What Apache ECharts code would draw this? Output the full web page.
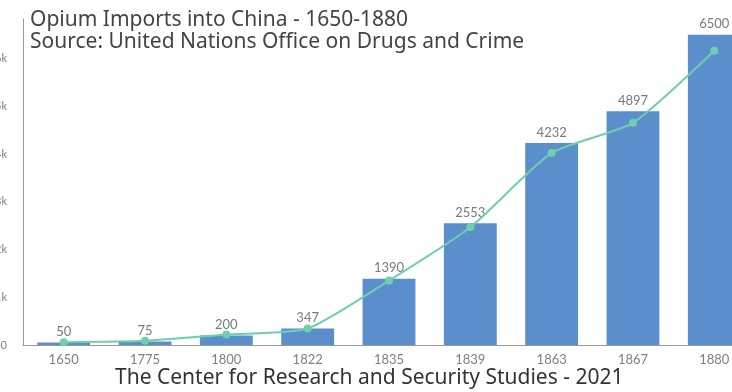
<!DOCTYPE html>
<html>
<head>
<meta charset="utf-8">
<script src="https://cdn.jsdelivr.net/npm/echarts@6/dist/echarts.min.js"></script>
<style>
html,body{margin:0;padding:0;background:#fff;overflow:hidden;width:732px;height:392px;}
#c{position:absolute;left:-10px;top:0;width:772px;height:392px;}
</style>
</head>
<body>
<div id="c"></div>
<script>
const years = ['1650','1775','1800','1822','1835','1839','1863','1867','1880'];
const imports = [50, 75, 200, 347, 1390, 2553, 4232, 4897, 6500];
const trend = [60, 90, 220, 345, 1350, 2467, 4025, 4654, 6164];
const titleLines = ['Opium Imports into China - 1650-1880', 'Source: United Nations Office on Drugs and Crime'];
const footer = 'The Center for Research and Security Studies - 2021';

const chart = echarts.init(document.getElementById('c'));
chart.setOption({
  backgroundColor: '#fff',
  animation: false,
  title: [{
    text: titleLines.join('\n'),
    left: 35, top: 4,
    textStyle: {fontFamily: 'Noto Sans', fontSize: 21, fontWeight: 'normal', color: '#444', lineHeight: 22}
  }, {
    text: footer,
    left: 120, top: 363,
    textStyle: {fontFamily: 'Noto Sans', fontSize: 21, fontWeight: 'normal', color: '#333'}
  }],
  grid: {left: 33, right: 7, top: 19, bottom: 47, containLabel: false},
  xAxis: {
    type: 'category', data: years,
    axisLine: {lineStyle: {color: '#999'}},
    axisTick: {show: false},
    axisLabel: {color: '#808080', fontFamily: 'Lato', fontSize: 13, margin: 8}
  },
  yAxis: {
    type: 'value', min: 0, max: 6830, interval: 1000,
    axisLine: {show: true, lineStyle: {color: '#999'}},
    axisTick: {show: false},
    splitLine: {show: false},
    axisLabel: {showMaxLabel: false, color: '#808080', fontFamily: 'Lato', fontSize: 11, margin: 16,
      formatter: v => v === 0 ? '0' : (v / 1000) + 'k'}
  },
  series: [{
    type: 'bar', data: imports, barWidth: '65%',
    itemStyle: {color: '#5b8fcc'},
    label: {show: true, position: 'top', distance: 4, color: '#7a7a7a', fontFamily: 'Lato', fontSize: 13}
  }, {
    type: 'line', data: trend, smooth: 0.2,
    symbol: 'circle', symbolSize: 8,
    lineStyle: {color: '#6dcfb0', width: 2},
    itemStyle: {color: '#6dcfb0'}
  }]
});
</script>
</body>
</html>
